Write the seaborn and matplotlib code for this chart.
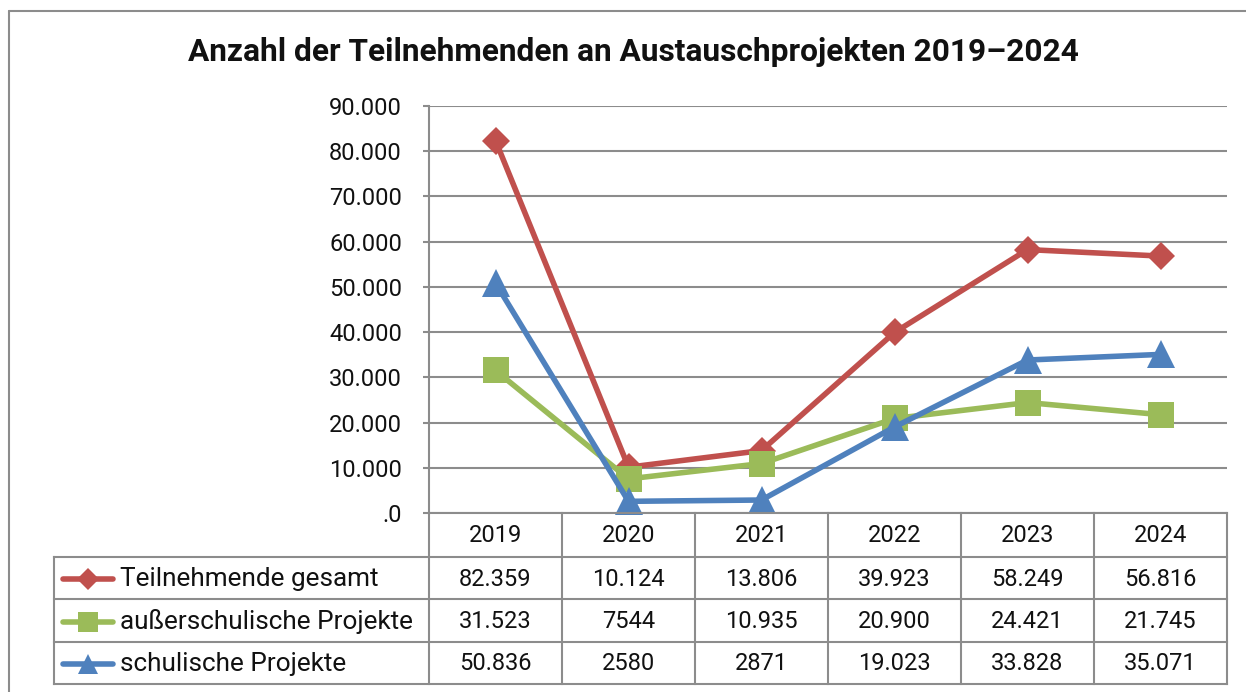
import matplotlib
matplotlib.use('Agg')
import pandas as pd
import matplotlib.pyplot as plt
import seaborn as sns
from matplotlib.lines import Line2D

# data
years = ['2019', '2020', '2021', '2022', '2023', '2024']
series_names = ['Teilnehmende gesamt', 'außerschulische Projekte', 'schulische Projekte']
gesamt = [82359, 10124, 13806, 39923, 58249, 56816]
ausserschulisch = [31523, 7544, 10935, 20900, 24421, 21745]
schulisch = [50836, 2580, 2871, 19023, 33828, 35071]
y_ticks = [0, 10000, 20000, 30000, 40000, 50000, 60000, 70000, 80000, 90000]
y_tick_labels = ['.0', '10.000', '20.000', '30.000', '40.000', '50.000',
                 '60.000', '70.000', '80.000', '90.000']
title = 'Anzahl der Teilnehmenden an Austauschprojekten 2019–2024'

colors = ['#C0504D', '#9BBB59', '#4F81BD']
markers = ['D', 's', '^']
msizes = [14.5, 18.5, 19.5]
GRAY = '#8c8c8c'


def fmt(v):
    # Excel style: separator only from 10.000 upwards
    return f'{v:,}'.replace(',', '.') if v >= 10000 else str(v)


df = pd.DataFrame({
    'idx': list(range(len(years))) * 3,
    'Jahr': years * 3,
    'Reihe': [series_names[0]] * 6 + [series_names[1]] * 6 + [series_names[2]] * 6,
    'Wert': gesamt + ausserschulisch + schulisch,
})

sns.set_style('white')
plt.rcParams['font.family'] = ['Roboto', 'DejaVu Sans']

W, H = 1246, 692
fig = plt.figure(figsize=(W / 100, H / 100), dpi=100)

# plot area
x0, x1, ytop, ybot = 429, 1227, 106, 513
ax = fig.add_axes([x0 / W, 1 - ybot / H, (x1 - x0) / W, (ybot - ytop) / H])
ax.set_axisbelow(True)
ax.yaxis.grid(True, color=GRAY, lw=1.5)
ax.xaxis.grid(False)

for name, col, mk, ms in zip(series_names, colors, markers, msizes):
    sns.lineplot(data=df[df['Reihe'] == name], x='idx', y='Wert', color=col,
                 marker=mk, markersize=ms, markeredgewidth=0, lw=4,
                 solid_joinstyle='round', ax=ax, legend=False, clip_on=False)

ax.set_xlim(-0.5, len(years) - 0.5)
ax.set_ylim(0, 90000)
ax.set_yticks(y_ticks)
ax.set_yticklabels(y_tick_labels)
ax.set_xticks([])
ax.set_xlabel('')
ax.set_ylabel('')
for s in ['top', 'right', 'bottom']:
    ax.spines[s].set_visible(False)
ax.spines['left'].set_color(GRAY)
ax.spines['left'].set_linewidth(1.5)
ax.tick_params(axis='y', length=4.5, width=1.5, color=GRAY, labelsize=17,
               pad=15, left=True, labelcolor='#111111')

# data table below the plot
tax = fig.add_axes([0, 0, 1, 1], facecolor='none')
tax.set_xlim(0, W)
tax.set_ylim(H, 0)
tax.axis('off')

leg_left = 54
rows = [513, 557, 599, 642, 684]
ncol = len(years)
cw = (x1 - x0) / ncol
cols = [x0 + i * cw for i in range(ncol + 1)]
lk = dict(color=GRAY, lw=1.5, solid_capstyle='projecting')

tax.plot([x0, x1], [rows[0], rows[0]], **lk)
for r in rows[1:]:
    tax.plot([leg_left, x1], [r, r], **lk)
tax.plot([leg_left, leg_left], [rows[1], rows[-1]], **lk)
for c in cols:
    tax.plot([c, c], [rows[0], rows[-1]], **lk)

for i, yr in enumerate(years):
    tax.text((cols[i] + cols[i + 1]) / 2, (rows[0] + rows[1]) / 2 + 1, yr,
             ha='center', va='center', fontsize=17, color='#111111')

for j, (name, vals) in enumerate(zip(series_names, [gesamt, ausserschulisch, schulisch])):
    yc = (rows[j + 1] + rows[j + 2]) / 2 + 1
    tax.add_line(Line2D([63, 113], [yc, yc], color=colors[j], lw=4))
    tax.add_line(Line2D([88], [yc], marker=markers[j], markersize=msizes[j] * 0.75,
                        color=colors[j], markeredgewidth=0))
    tax.text(120, yc, name, ha='left', va='center', fontsize=18.8, color='#111111')
    for i, v in enumerate(vals):
        tax.text((cols[i] + cols[i + 1]) / 2, yc, fmt(v), ha='center', va='center',
                 fontsize=17, color='#111111')

# outer chart frame (runs past right and bottom edge)
tax.plot([9, 9], [H + 10, 11], color=GRAY, lw=1.5)
tax.plot([9, W + 10], [11, 11], color=GRAY, lw=1.5)

fig.text(633 / W, 1 - 52 / H, title, ha='center', va='center', fontsize=22.8,
         fontweight='bold', color='#111111')

fig.savefig('out.png', dpi=100)
